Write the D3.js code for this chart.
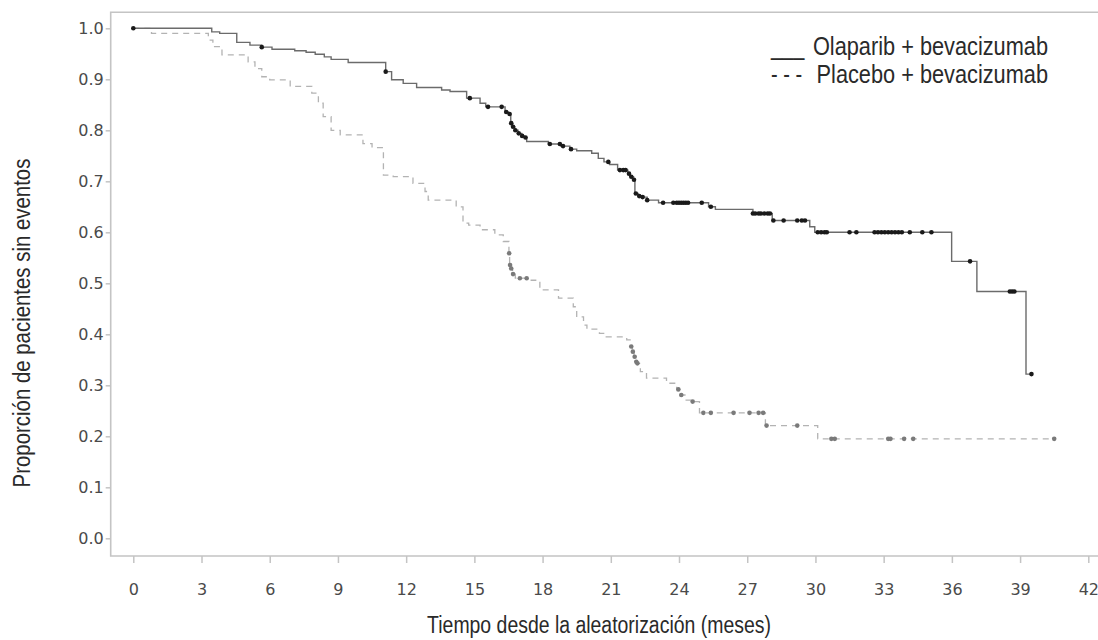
<!DOCTYPE html>
<html>
<head>
<meta charset="utf-8">
<title>Supervivencia libre de progresión</title>
<script src="https://cdn.jsdelivr.net/npm/d3@7/dist/d3.min.js"></script>
<style>
  * { margin: 0; padding: 0; }
  body { background: #fff; }
  .tick text { font-family: "DejaVu Sans", Verdana, sans-serif; font-size: 16px; fill: #4a4a4a; }
  .tick line { stroke: #c4c4c4; stroke-width: 1.5; }
  .ttl { font-family: "Liberation Sans Narrow", "Arial Narrow", "Liberation Sans", Arial, sans-serif; fill: #2a2a2a; }
</style>
</head>
<body>
<div id="chart"></div>
<script>
// ejes
var xTicks = [0, 3, 6, 9, 12, 15, 18, 21, 24, 27, 30, 33, 36, 39, 42];
var yTicks = [0, 0.1, 0.2, 0.3, 0.4, 0.5, 0.6, 0.7, 0.8, 0.9, 1.0];

// Olaparib + bevacizumab: tiempo del escalón (meses) y proporción desde ese tiempo
var olaTimes = [0, 3.45, 3.8, 4.55, 5.13, 5.65, 6.1, 7.1, 7.6, 8.0, 8.4, 8.7, 9.45, 11.1, 11.36,
  11.87, 12.46, 13.56, 13.93, 14.66, 15.25, 15.5, 16.35, 16.5, 16.6, 16.68, 16.78, 16.92, 17.08,
  17.2, 17.3, 18.25, 18.8, 19.2, 19.5, 20.16, 20.45, 20.7, 20.95, 21.3, 21.75, 21.85, 22.0, 22.06,
  22.2, 22.35, 22.6, 23.1, 25.3, 25.6, 27.25, 28.1, 29.75, 29.97, 35.99, 37.1, 39.26];
var olaSurv = [1.0, 0.993, 0.990, 0.9725, 0.967, 0.963, 0.959, 0.956, 0.953, 0.949, 0.944, 0.939, 0.933, 0.915, 0.899,
  0.892, 0.884, 0.879, 0.876, 0.863, 0.853, 0.846, 0.836, 0.832, 0.814, 0.807, 0.800, 0.794, 0.789,
  0.786, 0.778, 0.773, 0.769, 0.763, 0.760, 0.755, 0.745, 0.738, 0.733, 0.722, 0.715, 0.709, 0.703, 0.676,
  0.671, 0.669, 0.663, 0.658, 0.650, 0.645, 0.637, 0.623, 0.611, 0.600, 0.543, 0.484, 0.322];
var olaEnd = 39.5;
var olaCensor = [0, 5.65, 11.1, 14.8, 15.6, 16.2, 16.4, 16.55, 16.62, 16.7, 16.8, 16.95, 17.1, 17.25,
  18.32, 18.76, 18.9, 19.25, 20.89, 21.4, 21.55, 21.65, 21.8, 21.9, 22.02, 22.1, 22.25, 22.4, 22.6,
  23.3, 23.75, 23.9, 24.0, 24.1, 24.2, 24.3, 24.4, 25.0, 25.4, 27.25, 27.35, 27.5, 27.6, 27.75, 27.9,
  28.0, 28.15, 28.6, 29.2, 29.4, 29.54, 30.1, 30.25, 30.4, 30.5, 31.5, 31.8, 32.6, 32.75, 32.9, 33.05,
  33.2, 33.35, 33.5, 33.65, 33.8, 34.15, 34.7, 35.1, 36.8, 38.55, 38.65, 38.75, 39.5];

// Placebo + bevacizumab
var plaTimes = [0, 0.8, 3.3, 3.5, 3.9, 5.05, 5.35, 5.65, 6.0, 6.9, 7.85, 8.14, 8.35, 8.7, 9.1, 10.1,
  10.5, 11.0, 11.43, 12.3, 12.83, 12.97, 14.2, 14.5, 14.75, 15.25, 15.9, 16.27, 16.52, 16.55, 16.6,
  16.68, 16.8, 17.5, 17.88, 18.7, 19.35, 19.5, 19.8, 19.95, 20.5, 20.8, 21.7, 21.85, 21.95, 22.02,
  22.1, 22.15, 22.3, 22.57, 23.45, 23.9, 24.05, 24.26, 24.55, 24.9, 27.8, 30.1];
var plaSurv = [1.0, 0.990, 0.977, 0.964, 0.948, 0.934, 0.921, 0.905, 0.899, 0.886, 0.873, 0.853, 0.827, 0.800, 0.791, 0.774,
  0.766, 0.712, 0.709, 0.696, 0.680, 0.663, 0.650, 0.618, 0.614, 0.605, 0.595, 0.582, 0.559, 0.536, 0.529,
  0.518, 0.510, 0.506, 0.487, 0.471, 0.454, 0.434, 0.418, 0.410, 0.402, 0.395, 0.389, 0.376, 0.366, 0.356,
  0.346, 0.343, 0.327, 0.314, 0.304, 0.292, 0.281, 0.271, 0.268, 0.246, 0.221, 0.195];
var plaEnd = 40.5;
var plaCensor = [16.53, 16.57, 16.62, 16.7, 17.0, 17.3, 21.9, 21.97, 22.05, 22.12, 22.17, 23.97, 24.1,
  24.6, 25.07, 25.4, 26.4, 27.1, 27.5, 27.7, 27.85, 29.2, 30.7, 30.85, 33.2, 33.3, 33.9, 34.3, 40.5];

var W = 1098, H = 640;
var svg = d3.select("#chart").append("svg").attr("width", W).attr("height", H);

var x = d3.scaleLinear().domain([0, 42]).range([133.3, 1088.3]);
var y = d3.scaleLinear().domain([0, 1]).range([538.3, 28.3]);
var frameL = 110.7, frameT = 12.3, frameB = 556;

// marco
svg.append("path")
   .attr("d", "M" + W + "," + frameT + "H" + frameL + "V" + frameB + "H" + W)
   .attr("fill", "none").attr("stroke", "#c4c4c4").attr("stroke-width", 1.6);

var xAxis = svg.append("g").attr("transform", "translate(0," + frameB + ")")
   .call(d3.axisBottom(x).tickValues(xTicks).tickSize(7).tickPadding(21).tickFormat(d3.format("d")));
xAxis.select(".domain").remove();

var yAxis = svg.append("g").attr("transform", "translate(" + frameL + ",0)")
   .call(d3.axisLeft(y).tickValues(yTicks).tickSize(5).tickPadding(2).tickFormat(d3.format(".1f")));
yAxis.select(".domain").remove();

function steps(times, surv, end) {
   var pts = times.map(function(t, i) { return [t, surv[i]]; });
   pts.push([end, surv[surv.length - 1]]);
   return pts;
}
function survAt(times, surv, t) {
   var i = d3.bisectRight(times, t) - 1;
   return surv[Math.max(i, 0)];
}

var line = d3.line().x(function(d) { return x(d[0]); }).y(function(d) { return y(d[1]); })
   .curve(d3.curveStepAfter);

svg.append("path").datum(steps(plaTimes, plaSurv, plaEnd))
   .attr("d", line).attr("fill", "none").attr("stroke", "#b3b3b3")
   .attr("stroke-width", 1.3).attr("stroke-dasharray", "6,5");

svg.append("path").datum(steps(olaTimes, olaSurv, olaEnd))
   .attr("d", line).attr("fill", "none").attr("stroke", "#6b6b6b").attr("stroke-width", 1.4);

svg.append("g").selectAll("circle").data(plaCensor).enter().append("circle")
   .attr("cx", function(d) { return x(d); })
   .attr("cy", function(d) { return y(survAt(plaTimes, plaSurv, d)); })
   .attr("r", 2.3).attr("fill", "#7a7a7a");

svg.append("g").selectAll("circle").data(olaCensor).enter().append("circle")
   .attr("cx", function(d) { return x(d); })
   .attr("cy", function(d) { return y(survAt(olaTimes, olaSurv, d)); })
   .attr("r", 2.3).attr("fill", "#1a1a1a");

// texto estrecho (no hay Arial Narrow instalada): se comprime en horizontal
function narrowText(px, py, str, size, k, anchor, rot) {
   var g = svg.append("g").attr("transform", "translate(" + px + "," + py + ")" +
      (rot ? " rotate(" + rot + ")" : "") + " scale(" + k + ",1)");
   g.append("text").attr("class", "ttl").attr("text-anchor", anchor || "start")
      .style("font-size", size + "px").text(str);
}

// títulos
narrowText(599, 633, "Tiempo desde la aleatorización (meses)", 24, 0.81, "middle");
narrowText(30, 323, "Proporción de pacientes sin eventos", 24, 0.85, "middle", -90);

// leyenda
var legend = [
   { mark: "___", label: "Olaparib + bevacizumab", y: 55 },
   { mark: "- - -", label: "Placebo + bevacizumab", y: 83 }
];
legend.forEach(function(d) {
   narrowText(771, d.y, d.mark, 25, 0.8, "start");
   narrowText(1048, d.y, d.label, 25, 0.87, "end");
});
</script>
</body>
</html>
